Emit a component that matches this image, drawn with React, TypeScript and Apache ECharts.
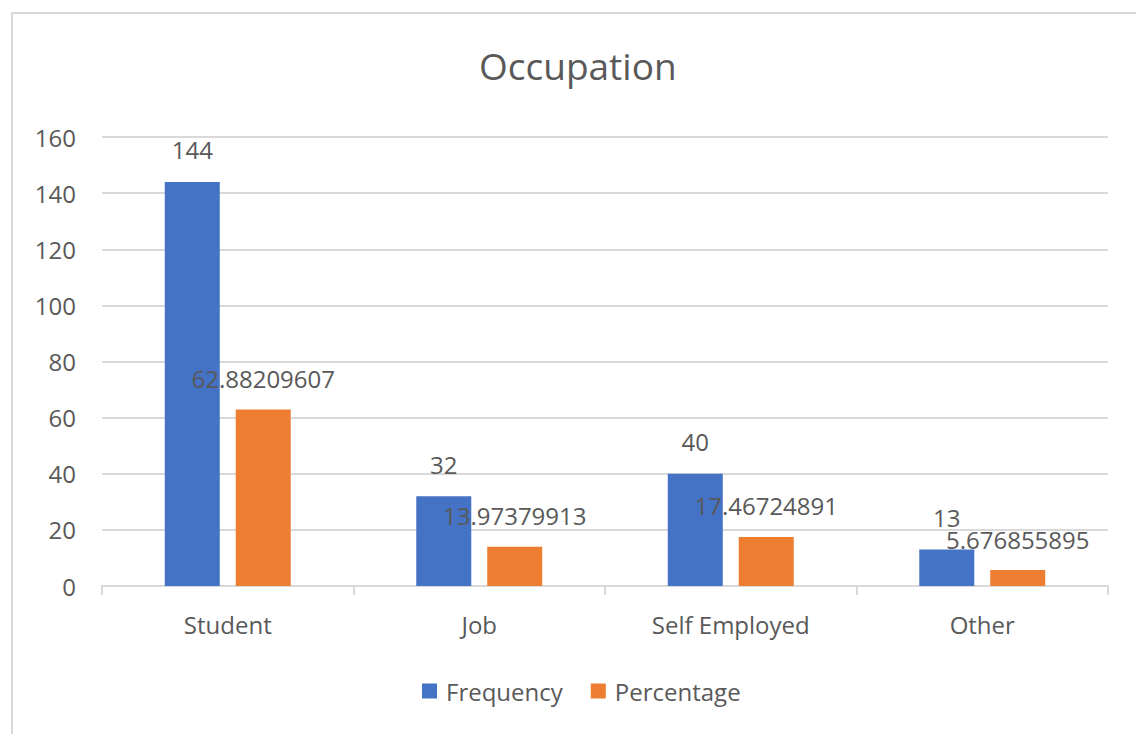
import React, { useEffect, useRef } from "react";
import * as echarts from "echarts";

const categories = ["Student", "Job", "Self Employed", "Other"];
const frequency = [144, 32, 40, 13];
const percentage = [62.88209607, 13.97379913, 17.46724891, 5.676855895];
const percentageLabels = ["62.88209607", "13.97379913", "17.46724891", "5.676855895"];
const yTicks = [0, 20, 40, 60, 80, 100, 120, 140, 160];

const FONT = "'Open Sans', 'Noto Sans', sans-serif";
const TXT = "#595959";

export default function App() {
  const ref = useRef<HTMLDivElement>(null);
  useEffect(() => {
    if (!ref.current) return;
    const chart = echarts.init(ref.current, undefined, { renderer: "svg" });
    chart.setOption({
      animation: false,
      backgroundColor: "#ffffff",
      textStyle: { fontFamily: FONT, color: TXT },
      title: {
        text: "Occupation",
        left: 474,
        top: 42,
        textStyle: { fontFamily: FONT, fontSize: 37, fontWeight: "normal", color: TXT },
      },
      graphic: [
        {
          type: "rect",
          shape: { x: 12, y: 13, width: 1200, height: 800 },
          style: { fill: "none", stroke: "#d9d9d9", lineWidth: 2 },
          silent: true,
        },
      ],
      legend: {
        bottom: 26,
        left: 417,
        itemWidth: 15,
        itemHeight: 15,
        itemGap: 28,
        icon: "rect",
        textStyle: { fontFamily: FONT, fontSize: 24, color: TXT, padding: [0, 0, 0, 4] },
        data: ["Frequency", "Percentage"],
      },
      grid: { left: 102, right: 28, top: 137, bottom: 148, containLabel: false },
      xAxis: {
        type: "category",
        data: categories,
        axisLine: { lineStyle: { color: "#d9d9d9", width: 2 } },
        axisTick: { show: true, length: 9, lineStyle: { color: "#d9d9d9", width: 2 } },
        axisLabel: { fontFamily: FONT, fontSize: 24, color: TXT, margin: 26 },
      },
      yAxis: {
        type: "value",
        min: yTicks[0],
        max: yTicks[yTicks.length - 1],
        interval: 20,
        axisLine: { show: false },
        axisTick: { show: false },
        splitLine: { lineStyle: { color: "#d9d9d9", width: 2 } },
        axisLabel: { fontFamily: FONT, fontSize: 24, color: TXT, margin: 26 },
      },
      series: [
        {
          name: "Frequency",
          type: "bar",
          data: frequency,
          itemStyle: { color: "#4472C4" },
          barWidth: 55,
          barGap: "29%",
          label: {
            show: true,
            position: "top",
            distance: 23,
            fontFamily: FONT,
            fontSize: 24,
            lineHeight: 18,
            color: TXT,
          },
        },
        {
          name: "Percentage",
          type: "bar",
          data: percentage,
          itemStyle: { color: "#ED7D31" },
          barWidth: 55,
          label: {
            show: true,
            position: "top",
            distance: 22,
            fontFamily: FONT,
            fontSize: 24,
            lineHeight: 18,
            color: TXT,
            formatter: (p: any) => percentageLabels[p.dataIndex],
          },
        },
      ],
    });
    return () => chart.dispose();
  }, []);
  return (
    <div
      ref={ref}
      style={{ position: "fixed", left: 0, top: 0, width: 1136, height: 734 }}
    />
  );
}
